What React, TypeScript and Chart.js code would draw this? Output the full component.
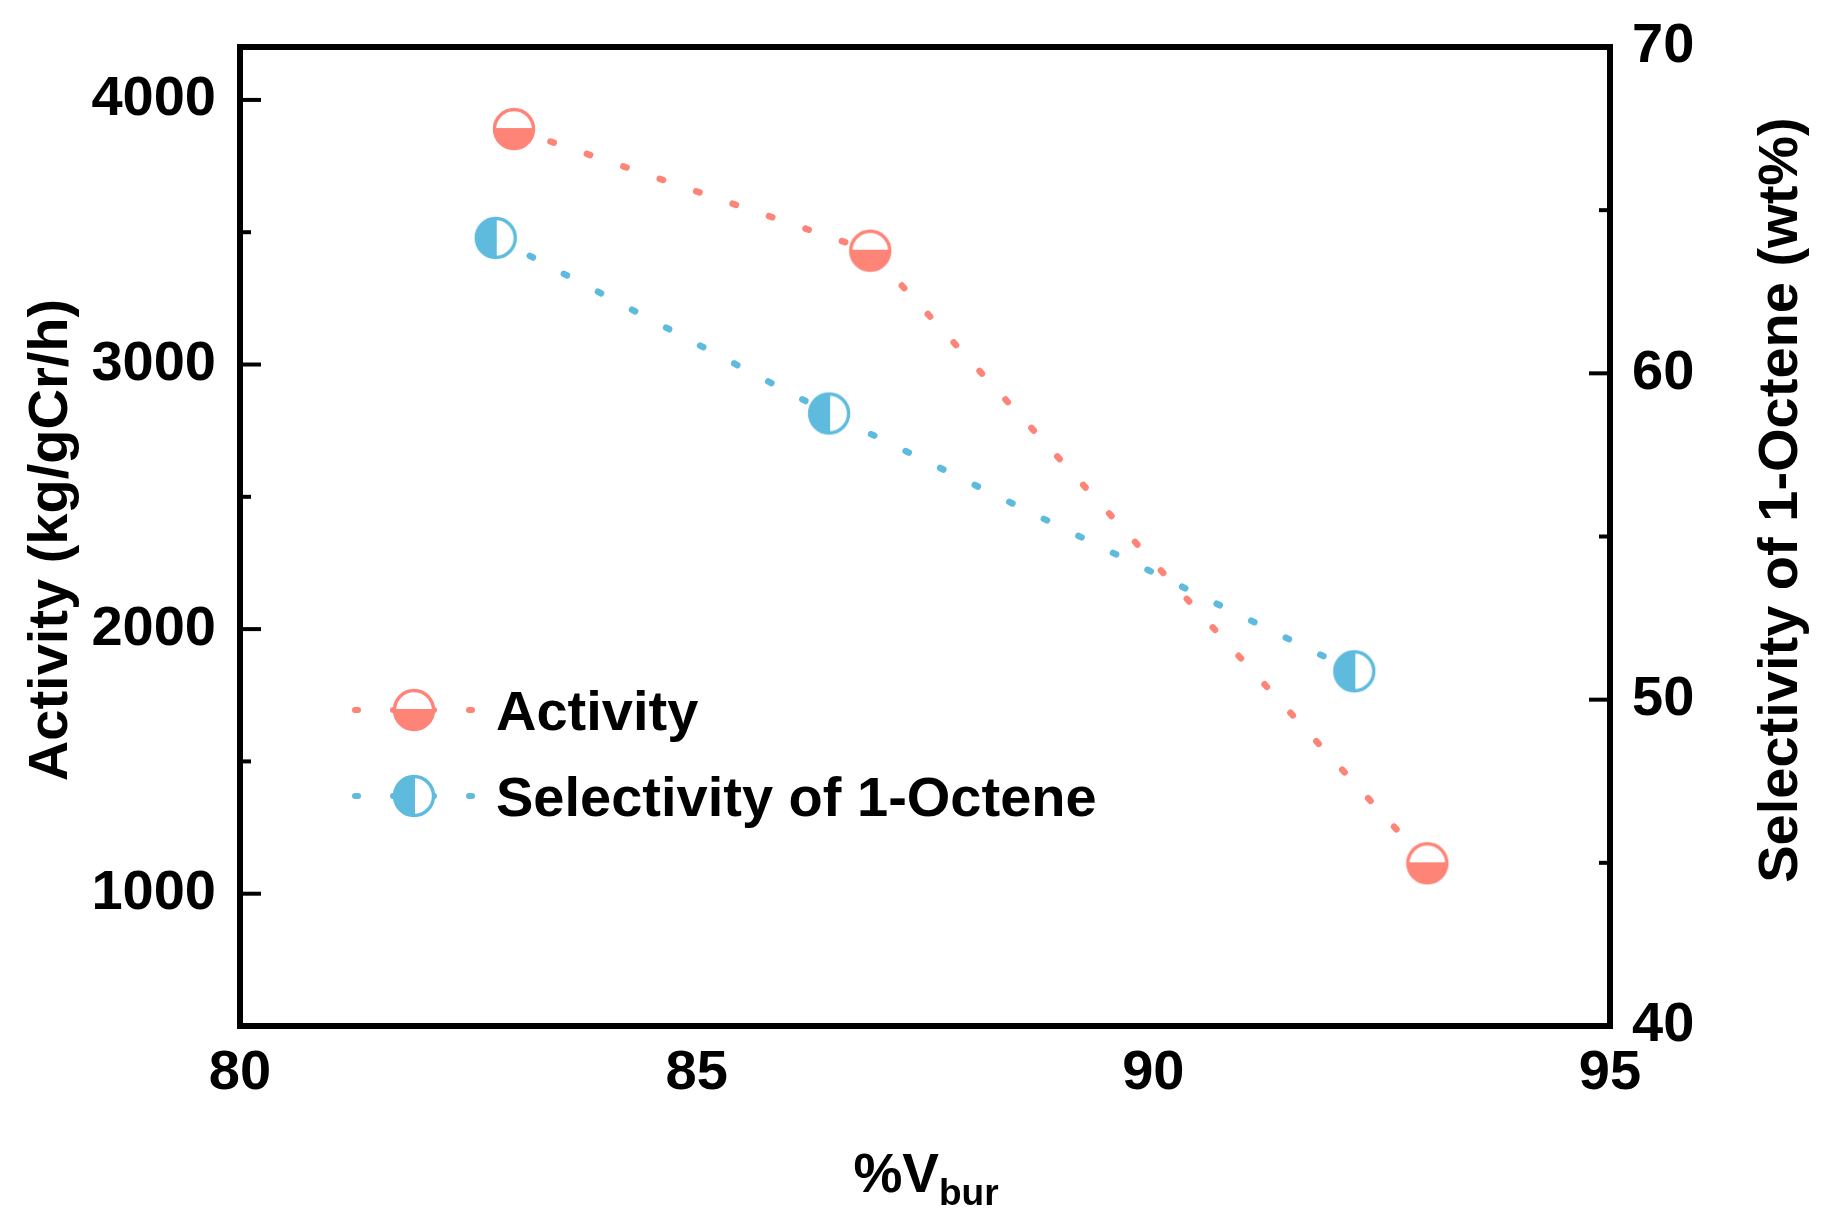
import React, { useEffect, useRef } from "react";
import { Chart, registerables } from "chart.js";

Chart.register(...registerables);

// ---- data ----
const seriesNames = ["Activity", "Selectivity of 1-Octene"];
const vburActivity = [83.0, 86.9, 93.0];
const activityValues = [3890, 3430, 1115];
const vburSelectivity = [82.8, 86.45, 92.2];
const selectivityValues = [64.15, 58.77, 50.87];

const xTicks = [80, 85, 90, 95];
const leftTicks = [1000, 2000, 3000, 4000];
const leftMinorTicks = [1500, 2500, 3500];
const rightTicks = [40, 50, 60, 70];
const rightMinorTicks = [45, 55, 65];

const xTitleMain = "%V";
const xTitleSub = "bur";
const leftTitle = "Activity (kg/gCr/h)";
const rightTitle = "Selectivity of 1-Octene (wt%)";

// ---- styles ----
const RED = "#FF8478";
const BLUE = "#5EBBDE";
const FONT = "'Liberation Sans', Arial, Helvetica, sans-serif";
const W = 1829;
const H = 1231;

function makeMarker(color: string, half: "bottom" | "left") {
  const s = 50;
  const c = document.createElement("canvas");
  c.width = s;
  c.height = s;
  const ctx = c.getContext("2d")!;
  const r = 19.5;
  const cx = s / 2;
  const cy = s / 2;
  ctx.beginPath();
  ctx.arc(cx, cy, r, 0, Math.PI * 2);
  ctx.fillStyle = "#ffffff";
  ctx.fill();
  ctx.save();
  ctx.beginPath();
  ctx.arc(cx, cy, r, 0, Math.PI * 2);
  ctx.clip();
  ctx.fillStyle = color;
  if (half === "bottom") ctx.fillRect(0, cy - 1, s, s);
  else ctx.fillRect(0, 0, cx + 1, s);
  ctx.restore();
  ctx.beginPath();
  ctx.arc(cx, cy, r, 0, Math.PI * 2);
  ctx.lineWidth = 3.4;
  ctx.strokeStyle = color;
  ctx.stroke();
  return c;
}

export default function App() {
  const ref = useRef<HTMLCanvasElement | null>(null);

  useEffect(() => {
    document.body.style.margin = "0";
    const canvas = ref.current!;
    const redMarker = makeMarker(RED, "bottom");
    const blueMarker = makeMarker(BLUE, "left");

    const decor = {
      id: "decor",
      afterDraw(chart: any) {
        const ctx = chart.ctx as CanvasRenderingContext2D;
        const a = chart.chartArea;
        const ys = chart.scales.y;
        const y1 = chart.scales.y1;
        ctx.save();
        // frame
        ctx.strokeStyle = "#000";
        ctx.lineWidth = 6;
        ctx.strokeRect(a.left, a.top, a.right - a.left, a.bottom - a.top);
        // inward ticks
        ctx.lineWidth = 4;
        ctx.lineCap = "butt";
        const tick = (x0: number, x1: number, y: number) => {
          ctx.beginPath();
          ctx.moveTo(x0, y);
          ctx.lineTo(x1, y);
          ctx.stroke();
        };
        leftTicks.forEach((v) => tick(a.left, a.left + 21, ys.getPixelForValue(v)));
        leftMinorTicks.forEach((v) => tick(a.left, a.left + 11, ys.getPixelForValue(v)));
        rightTicks.forEach((v) => tick(a.right, a.right - 21, y1.getPixelForValue(v)));
        rightMinorTicks.forEach((v) => tick(a.right, a.right - 11, y1.getPixelForValue(v)));

        // axis titles
        ctx.fillStyle = "#000";
        ctx.font = `bold 56px ${FONT}`;
        ctx.textAlign = "center";
        ctx.textBaseline = "middle";
        ctx.save();
        ctx.translate(52, 540);
        ctx.rotate(-Math.PI / 2);
        ctx.fillText(leftTitle, 0, 0);
        ctx.restore();
        ctx.save();
        ctx.translate(1782, 500);
        ctx.rotate(-Math.PI / 2);
        ctx.fillText(rightTitle, 0, 0);
        ctx.restore();

        // x title with subscript
        ctx.textAlign = "left";
        ctx.textBaseline = "alphabetic";
        ctx.font = `bold 55px ${FONT}`;
        const wMain = ctx.measureText(xTitleMain).width;
        ctx.font = `bold 37px ${FONT}`;
        const wSub = ctx.measureText(xTitleSub).width;
        const cx = (a.left + a.right) / 2 + 1;
        const sx = cx - (wMain + wSub) / 2;
        ctx.font = `bold 55px ${FONT}`;
        ctx.fillText(xTitleMain, sx, 1192);
        ctx.font = `bold 37px ${FONT}`;
        ctx.fillText(xTitleSub, sx + wMain, 1205);

        // legend
        const rows = [
          { name: seriesNames[0], color: RED, marker: redMarker, y: 710 },
          { name: seriesNames[1], color: BLUE, marker: blueMarker, y: 796 },
        ];
        rows.forEach((r) => {
          ctx.save();
          ctx.strokeStyle = r.color;
          ctx.lineWidth = 6;
          ctx.lineCap = "round";
          ctx.setLineDash([3, 35]);
          ctx.beginPath();
          ctx.moveTo(355, r.y);
          ctx.lineTo(474, r.y);
          ctx.stroke();
          ctx.restore();
          ctx.drawImage(r.marker, 414 - r.marker.width / 2, r.y - r.marker.height / 2);
          ctx.fillStyle = "#000";
          ctx.font = `bold 56px ${FONT}`;
          ctx.textAlign = "left";
          ctx.textBaseline = "alphabetic";
          ctx.fillText(r.name, 496, r.y + 20);
        });
        ctx.restore();
      },
    };

    const tickFont = { family: FONT, size: 56, weight: "bold" as const };
    const plain = (v: any) => String(v);

    const chart = new Chart(canvas, {
      type: "line",
      data: {
        datasets: [
          {
            label: seriesNames[0],
            data: vburActivity.map((x, i) => ({ x, y: activityValues[i] })),
            yAxisID: "y",
            borderColor: RED,
            backgroundColor: RED,
            borderWidth: 6.5,
            borderDash: [3.5, 35],
            borderCapStyle: "round",
            pointStyle: redMarker as any,
            pointRadius: 20,
            pointHoverRadius: 20,
            fill: false,
            tension: 0,
          },
          {
            label: seriesNames[1],
            data: vburSelectivity.map((x, i) => ({ x, y: selectivityValues[i] })),
            yAxisID: "y1",
            borderColor: BLUE,
            backgroundColor: BLUE,
            borderWidth: 6.5,
            borderDash: [3.5, 35],
            borderCapStyle: "round",
            pointStyle: blueMarker as any,
            pointRadius: 20,
            pointHoverRadius: 20,
            fill: false,
            tension: 0,
          },
        ],
      },
      options: {
        responsive: false,
        animation: false,
        devicePixelRatio: 1,
        layout: { autoPadding: false, padding: { top: 47, left: 0, right: 0, bottom: 0 } },
        plugins: {
          legend: { display: false },
          tooltip: { enabled: false },
          title: { display: false },
        },
        scales: {
          x: {
            type: "linear",
            min: 80,
            max: 95,
            grid: { display: false, drawTicks: false },
            border: { display: false },
            afterBuildTicks: (s: any) => {
              s.ticks = xTicks.map((v) => ({ value: v }));
            },
            afterFit: (s: any) => {
              s.height = H - 1026;
              s.paddingLeft = 0;
              s.paddingRight = 0;
            },
            ticks: {
              font: tickFont,
              color: "#000",
              padding: 14,
              maxRotation: 0,
              autoSkip: false,
              callback: plain,
            },
          },
          y: {
            type: "linear",
            position: "left",
            min: 500,
            max: 4200,
            grid: { display: false, drawTicks: false },
            border: { display: false },
            afterBuildTicks: (s: any) => {
              s.ticks = leftTicks.map((v) => ({ value: v }));
            },
            afterFit: (s: any) => {
              s.width = 240;
              s.paddingTop = 0;
              s.paddingBottom = 0;
            },
            ticks: { font: tickFont, color: "#000", padding: 24, callback: plain },
          },
          y1: {
            type: "linear",
            position: "right",
            min: 40,
            max: 70,
            grid: { display: false, drawTicks: false },
            border: { display: false },
            afterBuildTicks: (s: any) => {
              s.ticks = rightTicks.map((v) => ({ value: v }));
            },
            afterFit: (s: any) => {
              s.width = W - 1610;
              s.paddingTop = 0;
              s.paddingBottom = 0;
            },
            ticks: { font: tickFont, color: "#000", padding: 22, callback: plain },
          },
        },
      },
      plugins: [decor],
    });

    return () => chart.destroy();
  }, []);

  return (
    <div style={{ position: "absolute", left: 0, top: 0, width: W, height: H, background: "#fff" }}>
      <canvas ref={ref} width={W} height={H} style={{ width: W, height: H, display: "block" }} />
    </div>
  );
}
